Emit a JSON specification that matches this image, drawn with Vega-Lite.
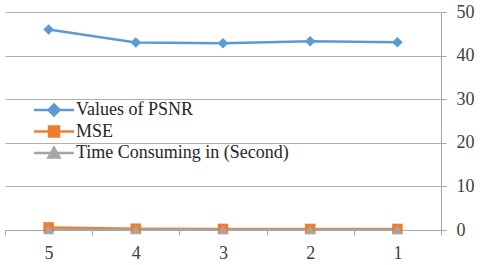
{
  "$schema": "https://vega.github.io/schema/vega-lite/v6.json",
  "width": 436,
  "height": 218,
  "autosize": {"type": "none"},
  "padding": {"left": 5, "top": 12, "right": 39, "bottom": 35},
  "background": "white",
  "config": {
    "view": {"stroke": null},
    "font": "Liberation Serif"
  },
  "data": {
    "values": [
      {"x": "5", "series": "Values of PSNR", "marker": "PSNR", "v": 46.0},
      {"x": "4", "series": "Values of PSNR", "marker": "PSNR", "v": 43.0},
      {"x": "3", "series": "Values of PSNR", "marker": "PSNR", "v": 42.85},
      {"x": "2", "series": "Values of PSNR", "marker": "PSNR", "v": 43.3},
      {"x": "1", "series": "Values of PSNR", "marker": "PSNR", "v": 43.05},
      {"x": "5", "series": "MSE", "marker": "MSE", "v": 0.6},
      {"x": "4", "series": "MSE", "marker": "MSE", "v": 0.3},
      {"x": "3", "series": "MSE", "marker": "MSE", "v": 0.25},
      {"x": "2", "series": "MSE", "marker": "MSE", "v": 0.25},
      {"x": "1", "series": "MSE", "marker": "MSE", "v": 0.25},
      {"x": "5", "series": "Time Consuming in (Second)", "marker": "Time", "v": 0.08},
      {"x": "4", "series": "Time Consuming in (Second)", "marker": "Time", "v": 0.05},
      {"x": "3", "series": "Time Consuming in (Second)", "marker": "Time", "v": 0.05},
      {"x": "2", "series": "Time Consuming in (Second)", "marker": "Time", "v": 0.05},
      {"x": "1", "series": "Time Consuming in (Second)", "marker": "Time", "v": 0.05}
    ]
  },
  "encoding": {
    "x": {
      "field": "x", "type": "ordinal",
      "scale": {"domain": ["5", "4", "3", "2", "1"], "paddingInner": 0, "paddingOuter": 0},
      "axis": {
        "title": null, "labelAngle": 0, "tickBand": "extent",
        "domainColor": "#a6a6a6", "tickColor": "#a6a6a6", "tickSize": 5,
        "labelFontSize": 18, "labelColor": "#404040",
        "labelPadding": 9, "grid": false
      }
    },
    "y": {
      "field": "v", "type": "quantitative",
      "scale": {"domain": [0, 50]},
      "axis": {
        "orient": "right", "title": null, "values": [0, 10, 20, 30, 40, 50],
        "domainColor": "#a6a6a6", "tickColor": "#a6a6a6", "tickSize": 5,
        "gridColor": "#b0b0b0", "labelFontSize": 18,
        "labelColor": "#404040", "labelPadding": 10
      }
    },
    "color": {
      "field": "series", "type": "nominal",
      "scale": {
        "domain": ["Values of PSNR", "MSE", "Time Consuming in (Second)"],
        "range": ["#5b9bd5", "#ed7d31", "#a5a5a5"]
      }
    }
  },
  "layer": [
    {
      "mark": {"type": "line", "strokeWidth": 2.5},
      "encoding": {
        "color": {
          "field": "series", "type": "nominal",
          "legend": {
            "title": null, "orient": "none", "legendX": 40, "legendY": 89,
            "padding": 0, "rowPadding": 0.5, "symbolSize": 100, "labelOffset": 13,
            "labelLimit": 400,
            "labelFontSize": 18, "labelColor": "#262626",
            "symbolStrokeWidth": 2.5,
            "encode": {
              "symbols": {
                "update": {
                  "shape": {"signal": "datum.value === 'Values of PSNR' ? 'M-4,0H4M0,-1.1L1.1,0L0,1.1L-1.1,0Z' : datum.value === 'MSE' ? 'M-4,0H4M-1,-1H1V1H-1Z' : 'M-4,0H4M0,-1.1L1.1,0.9L-1.1,0.9Z'"},
                  "fill": {"signal": "scale('color', datum.value)"},
                  "stroke": {"signal": "scale('color', datum.value)"},
                  "strokeWidth": {"value": 2.5},
                  "opacity": {"value": 1}
                }
              }
            }
          }
        }
      }
    },
    {
      "mark": {"type": "point", "filled": true, "opacity": 1, "size": 110},
      "encoding": {
        "shape": {
          "field": "marker", "type": "nominal",
          "scale": {
            "domain": ["PSNR", "MSE", "Time"],
            "range": ["diamond", "square", "triangle-up"]
          },
          "legend": null
        }
      }
    }
  ]
}
